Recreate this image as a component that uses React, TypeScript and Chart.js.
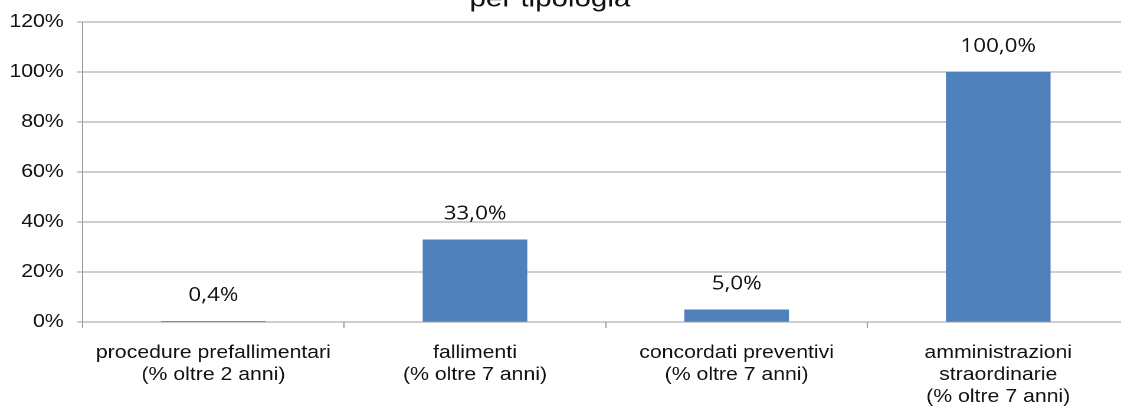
import React, { useEffect, useRef } from 'react';
import { Chart, registerables } from 'chart.js';

Chart.register(...registerables);

// ---- data ----
const categories: string[][] = [
  ['procedure prefallimentari', '(% oltre 2 anni)'],
  ['fallimenti', '(% oltre 7 anni)'],
  ['concordati preventivi', '(% oltre 7 anni)'],
  ['amministrazioni', 'straordinarie', '(% oltre 7 anni)'],
];
const values: number[] = [0.4, 33.0, 5.0, 100.0];
const yTickValues: number[] = [0, 20, 40, 60, 80, 100, 120];
const titleLines: string[] = ['per tipologia'];

const fmt = (v: number) => v.toFixed(1).replace('.', ',') + '%';

const BAR_COLOR = '#4f81bd';
const GRID_COLOR = '#9c9c9c';
const TEXT_COLOR = '#111111';
const SCALE_X = 1.18;
const CANVAS_W = 960;
const CANVAS_H = 407;

const overlayPlugin = {
  id: 'overlayLabels',
  afterDatasetsDraw(chart: any) {
    const ctx = chart.ctx;
    const meta = chart.getDatasetMeta(0);
    ctx.save();
    ctx.fillStyle = TEXT_COLOR;
    ctx.textAlign = 'center';
    ctx.textBaseline = 'alphabetic';
    ctx.font = '19px "Open Sans", sans-serif';
    meta.data.forEach((bar: any, i: number) => {
      ctx.fillText(fmt(values[i]), bar.x, bar.y - 20);
    });
    ctx.font = 'normal 400 25px "Liberation Sans", Arial, sans-serif';
    ctx.fillText(titleLines[0], 466, chart.chartArea.top - 15.5);
    ctx.restore();
  },
};

export default function App() {
  const ref = useRef<HTMLCanvasElement | null>(null);

  useEffect(() => {
    if (!ref.current) return;
    Chart.defaults.font.family = '"Liberation Sans", Arial, sans-serif';
    const chart = new Chart(ref.current, {
      type: 'bar',
      data: {
        labels: categories,
        datasets: [
          {
            data: values,
            backgroundColor: BAR_COLOR,
            borderWidth: 0,
            categoryPercentage: 1,
            barPercentage: 0.4,
          },
        ],
      },
      options: {
        animation: false,
        responsive: false,
        devicePixelRatio: 2,
        layout: { padding: { top: 21, right: 3.2, bottom: 0, left: 0 } },
        plugins: {
          legend: { display: false },
          title: { display: false },
          tooltip: { enabled: false },
        },
        scales: {
          x: {
            grid: {
              offset: true,
              drawOnChartArea: false,
              drawTicks: true,
              tickLength: 6,
              color: GRID_COLOR,
            },
            border: { display: true, color: GRID_COLOR, width: 1 },
            ticks: {
              color: TEXT_COLOR,
              padding: 14,
              maxRotation: 0,
              autoSkip: false,
              font: { size: 18, lineHeight: 22 / 18 },
            },
            afterFit: (s: any) => {
              s.height = 85;
            },
          },
          y: {
            min: 0,
            max: 120,
            afterBuildTicks: (s: any) => {
              s.ticks = yTickValues.map((v) => ({ value: v }));
            },
            grid: { color: GRID_COLOR, tickLength: 5, drawTicks: true },
            border: { display: true, color: GRID_COLOR, width: 1 },
            ticks: {
              color: TEXT_COLOR,
              padding: 11,
              font: { size: 18 },
              callback: (v: any) => v + '%',
            },
            afterFit: (s: any) => {
              s.width = 70;
            },
          },
        },
      },
      plugins: [overlayPlugin],
    });
    return () => chart.destroy();
  }, []);

  return (
    <div
      style={{
        position: 'fixed',
        left: 0,
        top: 0,
        width: 1121,
        height: 407,
        overflow: 'hidden',
        background: '#fff',
      }}
    >
      <div
        style={{
          width: CANVAS_W,
          height: CANVAS_H,
          transform: `scaleX(${SCALE_X})`,
          transformOrigin: '0 0',
        }}
      >
        <canvas
          ref={ref}
          width={CANVAS_W}
          height={CANVAS_H}
          style={{ width: CANVAS_W + 'px', height: CANVAS_H + 'px', display: 'block' }}
        />
      </div>
    </div>
  );
}
